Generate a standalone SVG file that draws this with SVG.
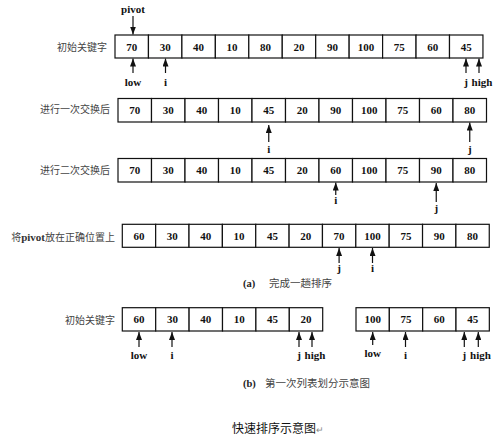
<svg xmlns="http://www.w3.org/2000/svg" width="502" height="439" viewBox="0 0 502 439">
<style>
.c{fill:#fff;stroke:#111;stroke-width:1.2}
.n{font-family:"Liberation Serif","Times New Roman",serif;font-weight:bold;font-size:11px;fill:#111;text-anchor:middle}
.p{font-family:"Liberation Serif","Times New Roman",serif;font-weight:bold;font-size:11px;fill:#111;text-anchor:middle}
.l{font-family:"Noto Sans CJK SC","Noto Sans",sans-serif;font-size:10px;fill:#444;text-anchor:end}
.cap{font-family:"Noto Sans CJK SC","Liberation Serif",sans-serif;font-size:10.5px;fill:#444}
.t{font-family:"Noto Sans CJK SC","Noto Sans",sans-serif;font-size:12px;fill:#111}
.a{stroke:#111;stroke-width:1.2;fill:none;marker-end:url(#ah)}
</style>
<defs>
<marker id="ah" markerUnits="userSpaceOnUse" markerWidth="8" markerHeight="6" refX="8" refY="3" orient="auto">
<path d="M0,0 L8,3 L0,6 z" fill="#111"/>
</marker>
</defs>
<rect width="502" height="439" fill="#fff"/>

<g id="row1">
<text class="l" x="107" y="51">初始关键字</text>
<rect class="c" x="115" y="35" width="33.45" height="23"/><text class="n" x="131.7" y="50.5">70</text>
<rect class="c" x="148.45" y="35" width="33.45" height="23"/><text class="n" x="165.2" y="50.5">30</text>
<rect class="c" x="181.9" y="35" width="33.45" height="23"/><text class="n" x="198.6" y="50.5">40</text>
<rect class="c" x="215.35" y="35" width="33.45" height="23"/><text class="n" x="232.1" y="50.5">10</text>
<rect class="c" x="248.8" y="35" width="33.45" height="23"/><text class="n" x="265.5" y="50.5">80</text>
<rect class="c" x="282.25" y="35" width="33.45" height="23"/><text class="n" x="299" y="50.5">20</text>
<rect class="c" x="315.7" y="35" width="33.45" height="23"/><text class="n" x="332.4" y="50.5">90</text>
<rect class="c" x="349.15" y="35" width="33.45" height="23"/><text class="n" x="365.9" y="50.5">100</text>
<rect class="c" x="382.6" y="35" width="33.45" height="23"/><text class="n" x="399.3" y="50.5">75</text>
<rect class="c" x="416.05" y="35" width="33.45" height="23"/><text class="n" x="432.8" y="50.5">60</text>
<rect class="c" x="449.5" y="35" width="33.45" height="23"/><text class="n" x="466.2" y="50.5">45</text>
</g>

<g id="row2">
<text class="l" x="110" y="113">进行一次交换后</text>
<rect class="c" x="118" y="98.5" width="33.5" height="23.5"/><text class="n" x="134.75" y="114">70</text>
<rect class="c" x="151.5" y="98.5" width="33.5" height="23.5"/><text class="n" x="168.25" y="114">30</text>
<rect class="c" x="185" y="98.5" width="33.5" height="23.5"/><text class="n" x="201.75" y="114">40</text>
<rect class="c" x="218.5" y="98.5" width="33.5" height="23.5"/><text class="n" x="235.25" y="114">10</text>
<rect class="c" x="252" y="98.5" width="33.5" height="23.5"/><text class="n" x="268.75" y="114">45</text>
<rect class="c" x="285.5" y="98.5" width="33.5" height="23.5"/><text class="n" x="302.25" y="114">20</text>
<rect class="c" x="319" y="98.5" width="33.5" height="23.5"/><text class="n" x="335.75" y="114">90</text>
<rect class="c" x="352.5" y="98.5" width="33.5" height="23.5"/><text class="n" x="369.25" y="114">100</text>
<rect class="c" x="386" y="98.5" width="33.5" height="23.5"/><text class="n" x="402.75" y="114">75</text>
<rect class="c" x="419.5" y="98.5" width="33.5" height="23.5"/><text class="n" x="436.25" y="114">60</text>
<rect class="c" x="453" y="98.5" width="33.5" height="23.5"/><text class="n" x="469.75" y="114">80</text>
</g>

<g id="row3">
<text class="l" x="110" y="174">进行二次交换后</text>
<rect class="c" x="118" y="158.5" width="33.5" height="23.5"/><text class="n" x="134.75" y="174">70</text>
<rect class="c" x="151.5" y="158.5" width="33.5" height="23.5"/><text class="n" x="168.25" y="174">30</text>
<rect class="c" x="185" y="158.5" width="33.5" height="23.5"/><text class="n" x="201.75" y="174">40</text>
<rect class="c" x="218.5" y="158.5" width="33.5" height="23.5"/><text class="n" x="235.25" y="174">10</text>
<rect class="c" x="252" y="158.5" width="33.5" height="23.5"/><text class="n" x="268.75" y="174">45</text>
<rect class="c" x="285.5" y="158.5" width="33.5" height="23.5"/><text class="n" x="302.25" y="174">20</text>
<rect class="c" x="319" y="158.5" width="33.5" height="23.5"/><text class="n" x="335.75" y="174">60</text>
<rect class="c" x="352.5" y="158.5" width="33.5" height="23.5"/><text class="n" x="369.25" y="174">100</text>
<rect class="c" x="386" y="158.5" width="33.5" height="23.5"/><text class="n" x="402.75" y="174">75</text>
<rect class="c" x="419.5" y="158.5" width="33.5" height="23.5"/><text class="n" x="436.25" y="174">90</text>
<rect class="c" x="453" y="158.5" width="33.5" height="23.5"/><text class="n" x="469.75" y="174">80</text>
</g>

<g id="row4">
<text class="l" x="115" y="240.5">将<tspan font-family="Liberation Serif,serif" font-weight="bold" font-size="11" fill="#333">pivot</tspan>放在正确位置上</text>
<rect class="c" x="122.3" y="224.3" width="33.36" height="23"/><text class="n" x="139" y="239.5">60</text>
<rect class="c" x="155.66" y="224.3" width="33.36" height="23"/><text class="n" x="172.3" y="239.5">30</text>
<rect class="c" x="189.02" y="224.3" width="33.36" height="23"/><text class="n" x="205.7" y="239.5">40</text>
<rect class="c" x="222.38" y="224.3" width="33.36" height="23"/><text class="n" x="239.1" y="239.5">10</text>
<rect class="c" x="255.74" y="224.3" width="33.36" height="23"/><text class="n" x="272.4" y="239.5">45</text>
<rect class="c" x="289.1" y="224.3" width="33.36" height="23"/><text class="n" x="305.8" y="239.5">20</text>
<rect class="c" x="322.46" y="224.3" width="33.36" height="23"/><text class="n" x="339.1" y="239.5">70</text>
<rect class="c" x="355.82" y="224.3" width="33.36" height="23"/><text class="n" x="372.5" y="239.5">100</text>
<rect class="c" x="389.18" y="224.3" width="33.36" height="23"/><text class="n" x="405.9" y="239.5">75</text>
<rect class="c" x="422.54" y="224.3" width="33.36" height="23"/><text class="n" x="439.2" y="239.5">90</text>
<rect class="c" x="455.9" y="224.3" width="33.36" height="23"/><text class="n" x="472.6" y="239.5">80</text>
</g>

<g id="captionA">
<text class="cap" x="243" y="287"><tspan font-family="Liberation Serif,serif" font-weight="bold" fill="#222">(a)</tspan><tspan x="269">完成一趟排序</tspan></text>
</g>

<g id="row5a">
<text class="l" x="115" y="324">初始关键字</text>
<rect class="c" x="122.3" y="307.7" width="33.4" height="23.3"/><text class="n" x="139" y="323">60</text>
<rect class="c" x="155.7" y="307.7" width="33.4" height="23.3"/><text class="n" x="172.4" y="323">30</text>
<rect class="c" x="189.1" y="307.7" width="33.4" height="23.3"/><text class="n" x="205.8" y="323">40</text>
<rect class="c" x="222.5" y="307.7" width="33.4" height="23.3"/><text class="n" x="239.2" y="323">10</text>
<rect class="c" x="255.9" y="307.7" width="33.4" height="23.3"/><text class="n" x="272.6" y="323">45</text>
<rect class="c" x="289.3" y="307.7" width="33.4" height="23.3"/><text class="n" x="306" y="323">20</text>
</g>

<g id="row5b">
<rect class="c" x="356" y="307.7" width="33.33" height="23.3"/><text class="n" x="372.7" y="323">100</text>
<rect class="c" x="389.33" y="307.7" width="33.33" height="23.3"/><text class="n" x="406" y="323">75</text>
<rect class="c" x="422.67" y="307.7" width="33.33" height="23.3"/><text class="n" x="439.3" y="323">60</text>
<rect class="c" x="456" y="307.7" width="33.33" height="23.3"/><text class="n" x="472.7" y="323">45</text>
</g>

<g id="captionB">
<text class="cap" x="243" y="387"><tspan font-family="Liberation Serif,serif" font-weight="bold" fill="#222">(b)</tspan><tspan x="265">第一次列表划分示意图</tspan></text>
</g>

<g id="title">
<text class="t" x="232" y="433">快速排序示意图<tspan font-size="9" fill="#888">↵</tspan></text>
</g>

<g id="pointers">
<text class="p" x="133" y="13">pivot</text>
<text class="p" x="133" y="86">low</text>
<text class="p" x="165.5" y="86">i</text>
<text class="p" x="466" y="86">j</text>
<text class="p" x="482" y="86">high</text>
<text class="p" x="268.75" y="153">i</text>
<text class="p" x="469.75" y="153">j</text>
<text class="p" x="335.75" y="204">i</text>
<text class="p" x="436.25" y="212">j</text>
<text class="p" x="339.1" y="272">j</text>
<text class="p" x="372.5" y="272">i</text>
<text class="p" x="139" y="359">low</text>
<text class="p" x="172" y="359">i</text>
<text class="p" x="299" y="359">j</text>
<text class="p" x="315" y="359">high</text>
<text class="p" x="372.7" y="357">low</text>
<text class="p" x="405.5" y="359">i</text>
<text class="p" x="464.3" y="359">j</text>
<text class="p" x="480.5" y="359">high</text>
</g>

<g id="connectors">
<line class="a" x1="133" y1="16" x2="133" y2="34.5"/>
<line class="a" x1="133" y1="73" x2="133" y2="58.5"/>
<line class="a" x1="165.5" y1="73" x2="165.5" y2="58.5"/>
<line class="a" x1="466" y1="73" x2="466" y2="58.5"/>
<line class="a" x1="479" y1="73" x2="479" y2="58.5"/>
<line class="a" x1="268.75" y1="142" x2="268.75" y2="125"/>
<line class="a" x1="469.75" y1="142" x2="469.75" y2="122.5"/>
<line class="a" x1="335.75" y1="195" x2="335.75" y2="182.5"/>
<line class="a" x1="436.25" y1="202" x2="436.25" y2="183"/>
<line class="a" x1="339.1" y1="263" x2="339.1" y2="248"/>
<line class="a" x1="372.5" y1="263" x2="372.5" y2="248"/>
<line class="a" x1="139" y1="347" x2="139" y2="332"/>
<line class="a" x1="172" y1="347" x2="172" y2="332"/>
<line class="a" x1="299" y1="347" x2="299" y2="332"/>
<line class="a" x1="312" y1="347" x2="312" y2="332"/>
<line class="a" x1="372.7" y1="345" x2="372.7" y2="332"/>
<line class="a" x1="405.5" y1="347" x2="405.5" y2="332"/>
<line class="a" x1="464.3" y1="347" x2="464.3" y2="332"/>
<line class="a" x1="478.3" y1="347" x2="478.3" y2="332"/>
</g>
</svg>
